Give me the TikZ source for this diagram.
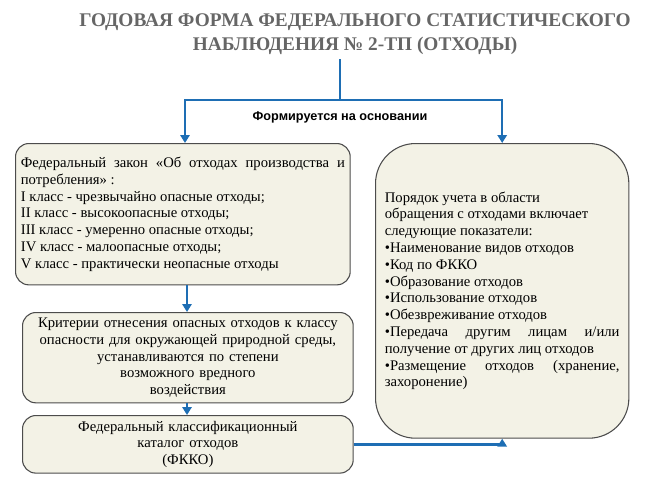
\documentclass[tikz,border=0pt]{standalone}
\usepackage{fontspec}
\setmainfont{Liberation Serif}
\newfontfamily\labelfont{Liberation Sans}
\usetikzlibrary{arrows.meta, positioning}
\definecolor{linkblue}{RGB}{30,110,180}
\definecolor{boxfill}{RGB}{243,242,230}

\begin{document}
\begin{tikzpicture}[x=0.75pt, y=-0.75pt,
    box/.style={rectangle, rounded corners=10pt, draw=black!70, line width=0.8pt, fill=boxfill, align=justify, font=\fontsize{11}{12.6}\selectfont, inner sep=4pt},
    arrow/.style={draw=linkblue, line width=1.8pt, -{Triangle[length=6pt, width=7pt]}}
    ]
    \useasboundingbox (0,0) rectangle (650,489);

    % Title
    \node (title) [font=\bfseries\fontsize{14.5}{18}\selectfont, text=black!60, align=center] at (355,34)
        {ГОДОВАЯ ФОРМА ФЕДЕРАЛЬНОГО СТАТИСТИЧЕСКОГО\\НАБЛЮДЕНИЯ № 2-ТП (ОТХОДЫ)};
    \node (basis) [font=\labelfont\bfseries\fontsize{9.5}{10}\selectfont] at (340,117) {Формируется на основании};

    % Boxes
    \node (law) [box, text width=243pt, minimum height=106pt, anchor=north west] at (15,143)
        {Федеральный закон «Об отходах производства и потребления» :\\I класс - чрезвычайно опасные отходы;\\II класс - высокоопасные отходы;\\III класс - умеренно опасные отходы;\\IV класс - малоопасные отходы;\\V класс - практически неопасные отходы};
    \node (crit) [box, align=center, text width=240pt, minimum height=62pt, anchor=north west] at (22,312)
        {Критерии отнесения опасных отходов к классу\\опасности для окружающей природной среды,\\устанавливаются по степени возможного вредного\\воздействия};
    \node (fkko) [box, align=center, text width=240pt, minimum height=35pt, anchor=north west] at (22,415)
        {Федеральный классификационный каталог отходов\\(ФККО)};
    \node (order) [box, rounded corners=30pt, minimum height=221pt, anchor=north west, text width=176pt, inner sep=7pt] at (375,143)
        {Порядок учета в области\\обращения с отходами включает\\следующие показатели:\\•Наименование видов отходов\\•Код по ФККО\\•Образование отходов\\•Использование отходов\\•Обезвреживание отходов\\•Передача другим лицам и/или получение от других лиц отходов\\•Размещение отходов (хранение, захоронение)};

    \coordinate (split) at (340,100);
    \draw [arrow, -] (title.south -| split) -- (split);
    \draw [arrow] (split) -| (185,143);
    \draw [arrow] (split) -| (order.north);
    \draw [arrow] (law.south -| 187,0) -- (crit.north -| 187,0);
    \draw [arrow] (crit.south -| 187,0) -- (fkko.north -| 187,0);
    \draw [arrow] (fkko.east) -| (order.south);
\end{tikzpicture}
\end{document}
